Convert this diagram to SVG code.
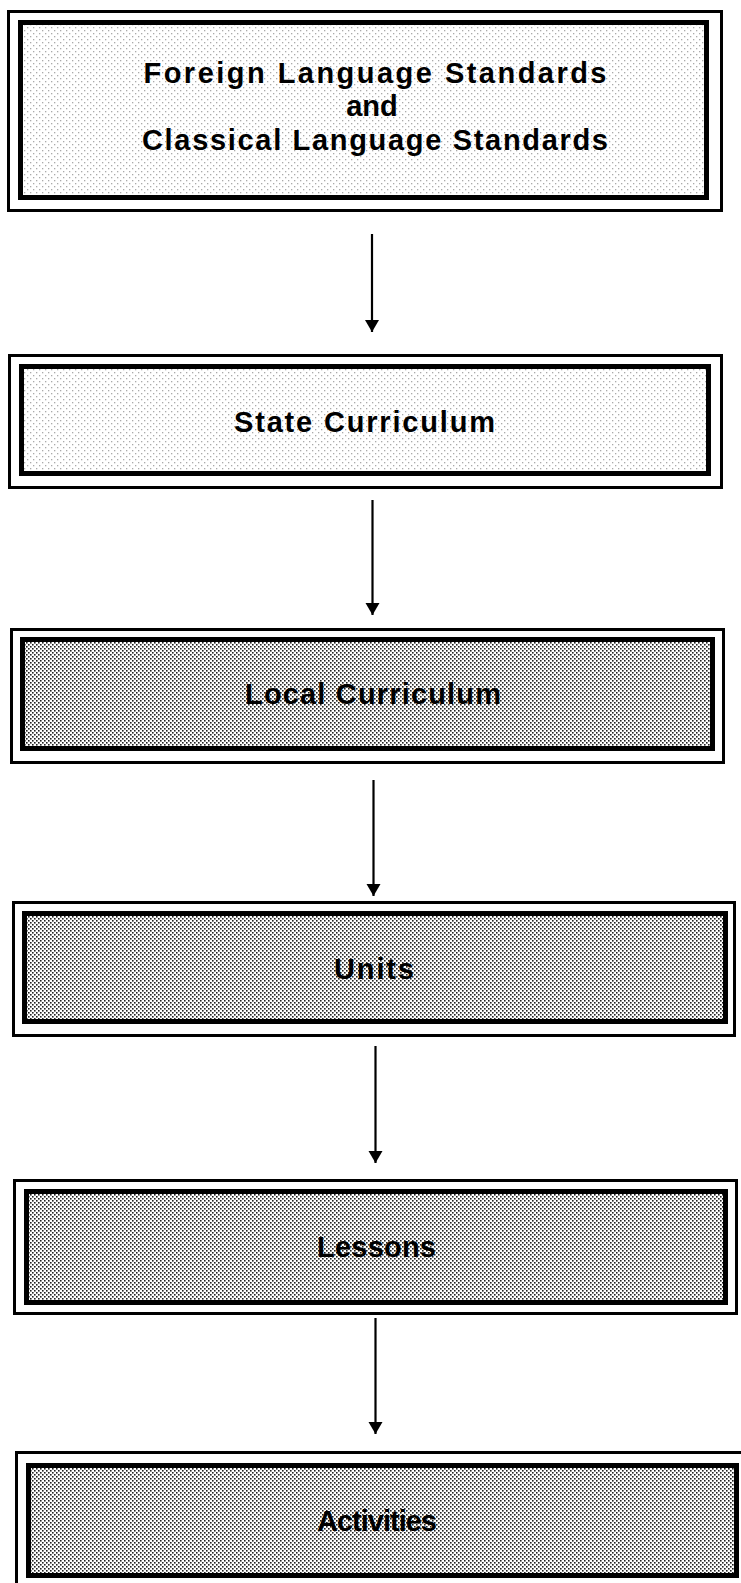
<svg xmlns="http://www.w3.org/2000/svg" width="741" height="1583" viewBox="0 0 741 1583">
  <style>
    .outer { fill: none; stroke: #000; stroke-width: 3; }
    .inner { stroke: #000; stroke-width: 5; }
    .light { fill: url(#lightDots); }
    .dense { fill: url(#denseDots); }
    .label { font-family: "Liberation Sans", Arial, sans-serif; font-weight: bold; font-size: 29px; fill: #000; text-anchor: middle; }
    .conn { stroke: #000; stroke-width: 2.2; fill: none; marker-end: url(#arrow); }
  </style>
  <defs>
    <pattern id="lightDots" patternUnits="userSpaceOnUse" width="6" height="6">
      <rect width="6" height="6" fill="#fff"/>
      <rect x="0" y="0" width="1.3" height="1.3" fill="#aaa"/>
      <rect x="3" y="3" width="1.3" height="1.3" fill="#aaa"/>
    </pattern>
    <pattern id="denseDots" patternUnits="userSpaceOnUse" width="4" height="4">
      <rect width="4" height="4" fill="#fff"/>
      <rect x="0" y="0" width="1.6" height="1.6" fill="#222"/>
      <rect x="2" y="2" width="1.6" height="1.6" fill="#222"/>
    </pattern>
    <marker id="arrow" markerUnits="userSpaceOnUse" markerWidth="16" markerHeight="14" refX="8" refY="12" orient="0" viewBox="0 0 16 14">
      <path d="M1,0 L15,0 L8,12 Z" fill="#000"/>
    </marker>
  </defs>

  <g id="connectors">
    <line class="conn" x1="372" y1="234" x2="372" y2="332"/>
    <line class="conn" x1="372.5" y1="500" x2="372.5" y2="615"/>
    <line class="conn" x1="373.5" y1="780" x2="373.5" y2="896"/>
    <line class="conn" x1="375.5" y1="1046" x2="375.5" y2="1163"/>
    <line class="conn" x1="375.5" y1="1318" x2="375.5" y2="1434"/>
  </g>

  <g id="node-standards">
    <rect class="outer" x="8.5" y="11.5" width="713" height="199"/>
    <rect class="inner light" x="20.5" y="22.5" width="686" height="175"/>
    <text class="label" x="375" y="83" textLength="463" lengthAdjust="spacing">Foreign Language Standards</text>
    <text class="label" x="372" y="116">and</text>
    <text class="label" x="375" y="150" textLength="466" lengthAdjust="spacing">Classical Language Standards</text>
  </g>

  <g id="node-state">
    <rect class="outer" x="9.5" y="355.5" width="712" height="132"/>
    <rect class="inner light" x="21.5" y="366.5" width="687" height="107"/>
    <text class="label" x="364.5" y="432" textLength="261" lengthAdjust="spacing">State Curriculum</text>
  </g>

  <g id="node-local">
    <rect class="outer" x="11.5" y="629.5" width="712" height="133"/>
    <rect class="inner dense" x="22.5" y="639.5" width="690" height="109"/>
    <text class="label" x="373" y="704" textLength="256" lengthAdjust="spacing">Local Curriculum</text>
  </g>

  <g id="node-units">
    <rect class="outer" x="13.5" y="902.5" width="721" height="133"/>
    <rect class="inner dense" x="24.5" y="913.5" width="701" height="108"/>
    <text class="label" x="374" y="979" textLength="80" lengthAdjust="spacing">Units</text>
  </g>

  <g id="node-lessons">
    <rect class="outer" x="14.5" y="1180.5" width="722" height="133"/>
    <rect class="inner dense" x="26.5" y="1191.5" width="699" height="111"/>
    <text class="label" x="376.5" y="1257" textLength="119" lengthAdjust="spacing">Lessons</text>
  </g>

  <g id="node-activities">
    <rect class="outer" x="16.5" y="1452.5" width="728" height="136"/>
    <rect class="inner dense" x="28.5" y="1465.5" width="708" height="110"/>
    <text class="label" x="377" y="1531" textLength="120" lengthAdjust="spacing">Activities</text>
  </g>
</svg>
